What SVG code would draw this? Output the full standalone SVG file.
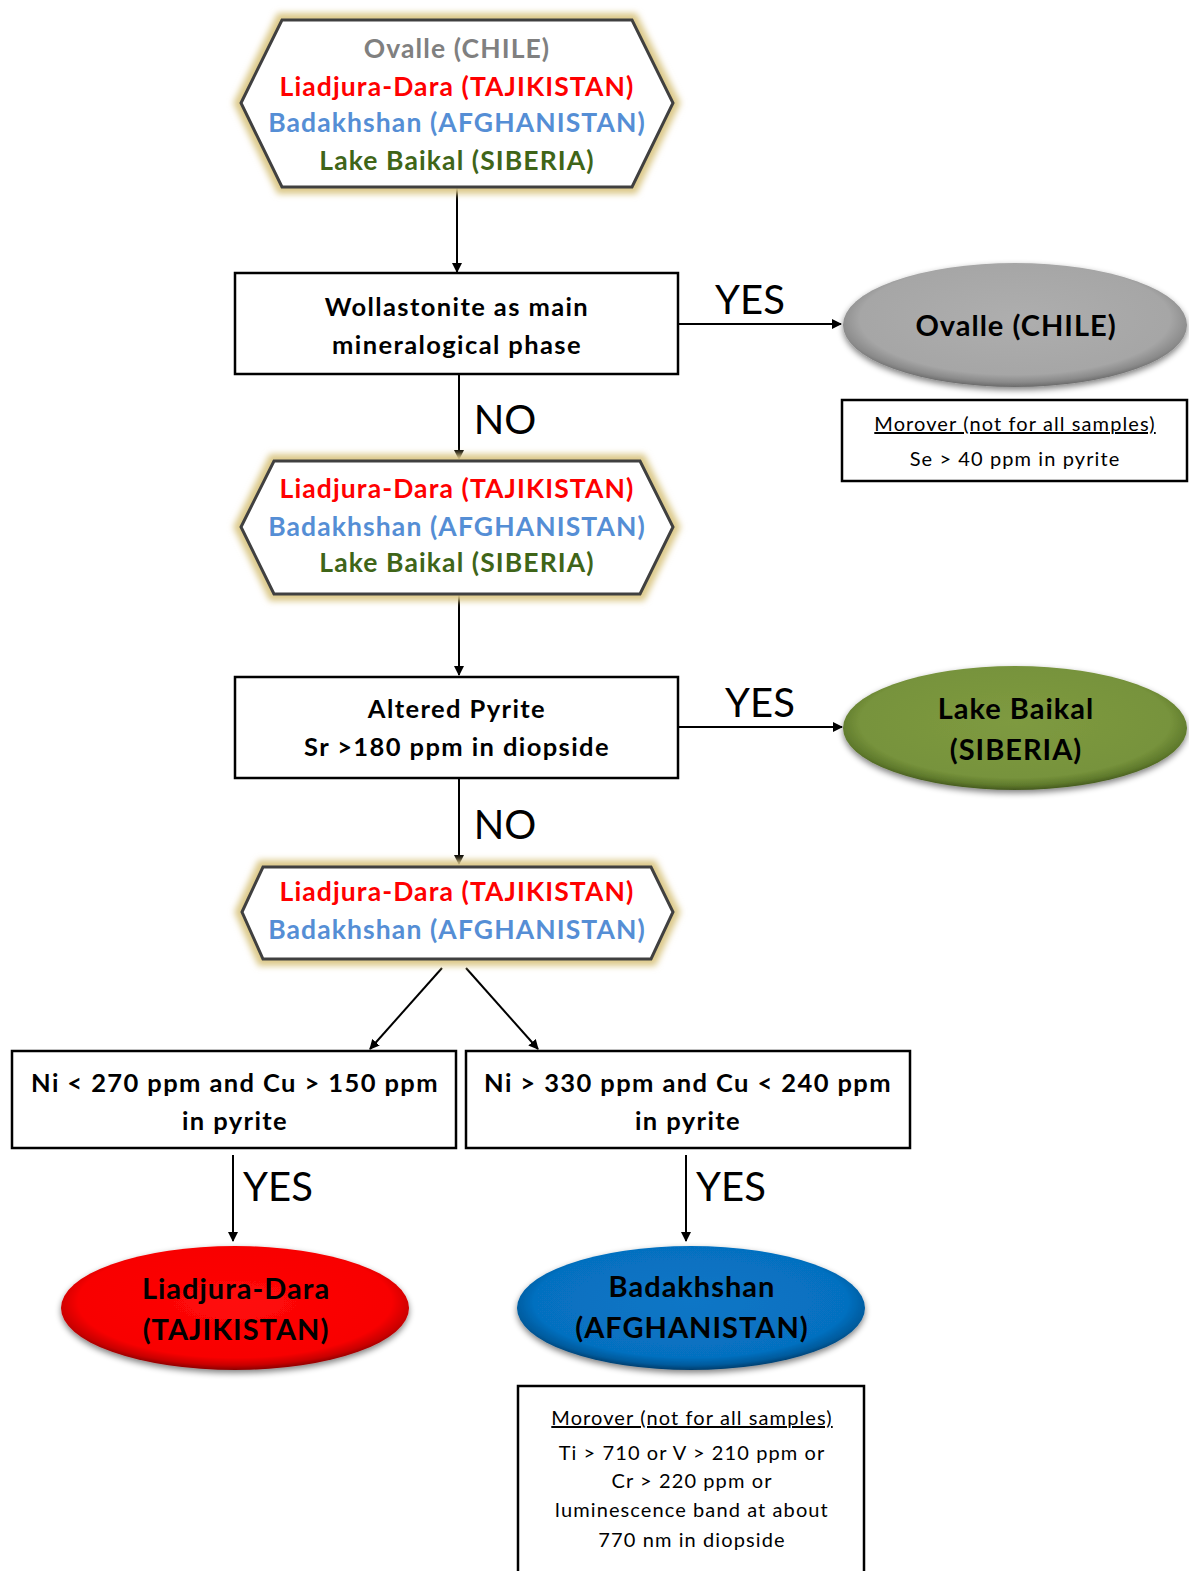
<svg xmlns="http://www.w3.org/2000/svg" width="1189" height="1571" viewBox="0 0 1189 1571">
<defs>
<style>
.t{font-family:Lato,"Open Sans","Liberation Sans",sans-serif;font-weight:bold;text-anchor:middle}
.h{font-size:26.5px;letter-spacing:1.1px}
.bx{font-size:25.5px;letter-spacing:1.4px}
.el{font-size:29px;letter-spacing:1px}
.box{fill:#fff;stroke:#000;stroke-width:2.5}
.hex{fill:#fff;stroke:#404040;stroke-width:3}
.glow{fill:none;stroke:#dcc98a;stroke-width:14;filter:url(#blur)}
.lbl{font-family:Lato,"Open Sans","Liberation Sans",sans-serif;font-size:40px;fill:#000;text-anchor:middle}
.c{stroke:#000;stroke-width:2;fill:none;marker-end:url(#ar)}
.note{font-family:Lato,"Open Sans","Liberation Sans",sans-serif;font-size:20px;letter-spacing:1.1px;text-anchor:middle;fill:#000}
.g{fill:#808080}.r{fill:#ff0000}.b{fill:#558ed5}.gr{fill:#3f6518}
</style>
<filter id="blur" x="-10%" y="-20%" width="120%" height="140%"><feGaussianBlur stdDeviation="3"/></filter>
<filter id="sh" x="-10%" y="-20%" width="120%" height="150%"><feGaussianBlur in="SourceAlpha" stdDeviation="3"/><feOffset dy="3"/><feComponentTransfer><feFuncA type="linear" slope="0.5"/></feComponentTransfer><feMerge><feMergeNode/><feMergeNode in="SourceGraphic"/></feMerge></filter>
<marker id="ar" viewBox="0 0 10 10" refX="9" refY="5" markerWidth="5" markerHeight="5" orient="auto"><path d="M0,0 L10,5 L0,10 z" fill="#000"/></marker>
<radialGradient id="gGray" cx="50%" cy="45%" r="55%"><stop offset="0" stop-color="#aeaeae"/><stop offset="0.82" stop-color="#a6a6a6"/><stop offset="0.93" stop-color="#8a8a8a"/><stop offset="1" stop-color="#6a6a6a"/></radialGradient>
<radialGradient id="gGreen" cx="50%" cy="45%" r="55%"><stop offset="0" stop-color="#7e9a40"/><stop offset="0.82" stop-color="#77933c"/><stop offset="0.93" stop-color="#5f7a2c"/><stop offset="1" stop-color="#45591f"/></radialGradient>
<radialGradient id="gRed" cx="50%" cy="45%" r="55%"><stop offset="0" stop-color="#ff0a0a"/><stop offset="0.82" stop-color="#f80000"/><stop offset="0.93" stop-color="#c80000"/><stop offset="1" stop-color="#8a0000"/></radialGradient>
<radialGradient id="gBlue" cx="50%" cy="45%" r="55%"><stop offset="0" stop-color="#0a76c6"/><stop offset="0.82" stop-color="#0670c0"/><stop offset="0.93" stop-color="#055a9c"/><stop offset="1" stop-color="#033d6c"/></radialGradient>
</defs>
<rect width="1189" height="1571" fill="#fff"/>

<g id="connectors">
<line class="c" x1="457" y1="188" x2="457" y2="272"/>
<line class="c" x1="678" y1="324" x2="841" y2="324"/>
<line class="c" x1="459" y1="375" x2="459" y2="459"/>
<line class="c" x1="459" y1="595" x2="459" y2="675"/>
<line class="c" x1="678" y1="727" x2="842" y2="727"/>
<line class="c" x1="459" y1="779" x2="459" y2="864"/>
<line class="c" x1="442" y1="968" x2="370" y2="1049"/>
<line class="c" x1="466" y1="968" x2="538" y2="1049"/>
<line class="c" x1="233" y1="1155" x2="233" y2="1241"/>
<line class="c" x1="686" y1="1155" x2="686" y2="1241"/>
<text class="lbl" x="750" y="314">YES</text>
<text class="lbl" x="505" y="434">NO</text>
<text class="lbl" x="760" y="717">YES</text>
<text class="lbl" x="505" y="839">NO</text>
<text class="lbl" x="278" y="1201">YES</text>
<text class="lbl" x="731" y="1201">YES</text>
</g>

<g id="hex1">
<polygon class="glow" points="241,103 282,20 632,20 673,103 632,187 282,187"/>
<polygon class="hex" points="241,103 282,20 632,20 673,103 632,187 282,187"/>
<text class="t h g" x="457" y="58">Ovalle (CHILE)</text>
<text class="t h r" x="457" y="96">Liadjura-Dara (TAJIKISTAN)</text>
<text class="t h b" x="457" y="132">Badakhshan (AFGHANISTAN)</text>
<text class="t h gr" x="457" y="170">Lake Baikal (SIBERIA)</text>
</g>

<g id="box1">
<rect class="box" x="235" y="273" width="443" height="101"/>
<text class="t bx" x="457" y="316">Wollastonite as main</text>
<text class="t bx" x="457" y="354">mineralogical phase</text>
</g>

<g id="ovalle">
<ellipse cx="1015" cy="325" rx="172" ry="62" fill="url(#gGray)" filter="url(#sh)"/>
<text class="t el" x="1016" y="336">Ovalle (CHILE)</text>
</g>

<g id="note1">
<rect class="box" x="842" y="400" width="345" height="81"/>
<text class="note" x="1015" y="431" text-decoration="underline">Morover (not for all samples)</text>
<text class="note" x="1015" y="466">Se &gt; 40 ppm in pyrite</text>
</g>

<g id="hex2">
<polygon class="glow" points="241,527 274,461 640,461 673,527 640,594 274,594"/>
<polygon class="hex" points="241,527 274,461 640,461 673,527 640,594 274,594"/>
<text class="t h r" x="457" y="498">Liadjura-Dara (TAJIKISTAN)</text>
<text class="t h b" x="457" y="536">Badakhshan (AFGHANISTAN)</text>
<text class="t h gr" x="457" y="572">Lake Baikal (SIBERIA)</text>
</g>

<g id="box2">
<rect class="box" x="235" y="677" width="443" height="101"/>
<text class="t bx" x="457" y="718">Altered Pyrite</text>
<text class="t bx" x="457" y="756">Sr &gt;180 ppm in diopside</text>
</g>

<g id="baikal">
<ellipse cx="1015" cy="728" rx="172" ry="62" fill="url(#gGreen)" filter="url(#sh)"/>
<text class="t el" x="1016" y="719">Lake Baikal</text>
<text class="t el" x="1016" y="760">(SIBERIA)</text>
</g>

<g id="hex3">
<polygon class="glow" points="242,912 263,867 651,867 673,912 651,959 263,959"/>
<polygon class="hex" points="242,912 263,867 651,867 673,912 651,959 263,959"/>
<text class="t h r" x="457" y="901">Liadjura-Dara (TAJIKISTAN)</text>
<text class="t h b" x="457" y="939">Badakhshan (AFGHANISTAN)</text>
</g>

<g id="box3">
<rect class="box" x="12" y="1051" width="444" height="97"/>
<text class="t bx" x="235" y="1092">Ni &lt; 270 ppm and Cu &gt; 150 ppm</text>
<text class="t bx" x="235" y="1130">in pyrite</text>
</g>

<g id="box4">
<rect class="box" x="466" y="1051" width="444" height="97"/>
<text class="t bx" x="688" y="1092">Ni &gt; 330 ppm and Cu &lt; 240 ppm</text>
<text class="t bx" x="688" y="1130">in pyrite</text>
</g>

<g id="tajik">
<ellipse cx="235" cy="1308" rx="174" ry="62" fill="url(#gRed)" filter="url(#sh)"/>
<text class="t el" x="236" y="1299">Liadjura-Dara</text>
<text class="t el" x="236" y="1340">(TAJIKISTAN)</text>
</g>

<g id="afghan">
<ellipse cx="691" cy="1308" rx="174" ry="62" fill="url(#gBlue)" filter="url(#sh)"/>
<text class="t el" x="692" y="1297">Badakhshan</text>
<text class="t el" x="692" y="1338">(AFGHANISTAN)</text>
</g>

<g id="note2">
<path d="M518,1575 V1386 H864 V1575" fill="#fff" stroke="#000" stroke-width="2.5"/>
<text class="note" x="692" y="1425" text-decoration="underline">Morover (not for all samples)</text>
<text class="note" x="692" y="1460">Ti &gt; 710  or V &gt; 210  ppm or</text>
<text class="note" x="692" y="1488">Cr &gt; 220  ppm or</text>
<text class="note" x="692" y="1517">luminescence band at about</text>
<text class="note" x="692" y="1547">770  nm in diopside</text>
</g>
</svg>
